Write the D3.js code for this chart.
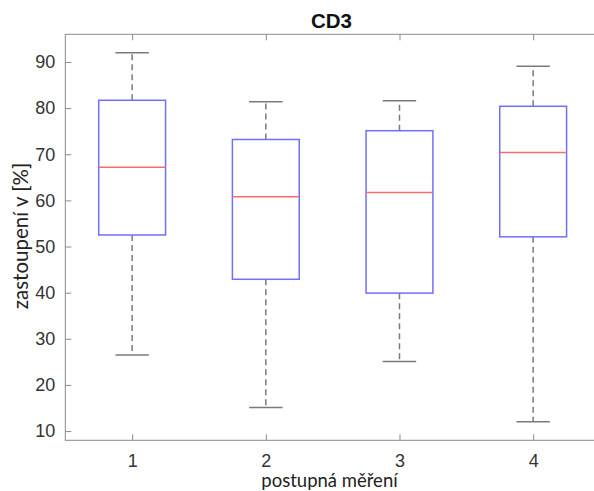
<!DOCTYPE html>
<html>
<head>
<meta charset="utf-8">
<script src="https://cdn.jsdelivr.net/npm/d3@7"></script>
<style>
  html, body { margin: 0; padding: 0; background: #fff; }
  svg { display: block; }
</style>
</head>
<body>
<svg id="chart" width="594" height="491"></svg>
<script>
// Measurement groups and their box-plot statistics (%)
const groups = [1, 2, 3, 4];
const whiskerLow  = [26.5, 15.1, 25.1, 12.0];
const q1          = [52.5, 42.9, 39.9, 52.1];
const median      = [67.2, 60.8, 61.7, 70.4];
const q3          = [81.7, 73.2, 75.1, 80.4];
const whiskerHigh = [92.0, 81.4, 81.6, 89.1];
const yTicks = [10, 20, 30, 40, 50, 60, 70, 80, 90];

const title = "CD3";
const xLabel = "postupná měření";
const yLabel = "zastoupení v [%]";

const svg = d3.select("#chart");
const plotLeft = 65.3, plotRight = 600, plotTop = 34.3, plotBottom = 440.3;

const x = d3.scaleLinear().domain([0.5, 4.5]).range([plotLeft, plotRight]);
const y = d3.scaleLinear().domain([8, 96]).range([plotBottom, plotTop]);

const frameColor = "#8a8a8a";
const textColor = "#333";
const tickFont = "'Liberation Sans', Arial, sans-serif";
const labelFont = "Lato, 'Open Sans', sans-serif";

// Axes frame
svg.append("rect")
  .attr("x", plotLeft).attr("y", plotTop)
  .attr("width", plotRight - plotLeft).attr("height", plotBottom - plotTop)
  .attr("fill", "none").attr("stroke", frameColor).attr("stroke-width", 1);

// Left axis (ticks pointing inward)
const yAxis = svg.append("g")
  .attr("transform", `translate(${plotLeft},0)`)
  .call(d3.axisLeft(y).tickValues(yTicks).tickSizeInner(-6).tickSizeOuter(0).tickPadding(10));
yAxis.select(".domain").remove();
yAxis.selectAll(".tick line").attr("stroke", frameColor);
yAxis.selectAll(".tick text")
  .attr("fill", textColor).attr("font-family", tickFont).attr("font-size", 18);

// Right side inward ticks
const yAxisR = svg.append("g")
  .attr("transform", `translate(${plotRight},0)`)
  .call(d3.axisRight(y).tickValues(yTicks).tickSizeInner(-6).tickSizeOuter(0).tickFormat(""));
yAxisR.select(".domain").remove();
yAxisR.selectAll(".tick line").attr("stroke", frameColor);

// Bottom axis
const xAxis = svg.append("g")
  .attr("transform", `translate(0,${plotBottom})`)
  .call(d3.axisBottom(x).tickValues(groups).tickSizeInner(-6).tickSizeOuter(0).tickPadding(13.5).tickFormat(d3.format("d")));
xAxis.select(".domain").remove();
xAxis.selectAll(".tick line").attr("stroke", frameColor);
xAxis.selectAll(".tick text")
  .attr("fill", textColor).attr("font-family", tickFont).attr("font-size", 18);

// Top inward ticks
const xAxisT = svg.append("g")
  .attr("transform", `translate(0,${plotTop})`)
  .call(d3.axisTop(x).tickValues(groups).tickSizeInner(-6).tickSizeOuter(0).tickFormat(""));
xAxisT.select(".domain").remove();
xAxisT.selectAll(".tick line").attr("stroke", frameColor);

// Box plots
const boxHalf = 0.25, capHalf = 0.125;
const stats = groups.map((g, i) => ({
  g, lo: whiskerLow[i], q1: q1[i], med: median[i], q3: q3[i], hi: whiskerHigh[i]
}));

const boxes = svg.append("g").selectAll("g").data(stats).join("g");

const whiskerColor = "#7a7a7a";
// Dashed whiskers
boxes.append("line")
  .attr("x1", d => x(d.g)).attr("x2", d => x(d.g))
  .attr("y1", d => y(d.q3)).attr("y2", d => y(d.hi))
  .attr("stroke", whiskerColor).attr("stroke-width", 1.5).attr("stroke-dasharray", "6,4");
boxes.append("line")
  .attr("x1", d => x(d.g)).attr("x2", d => x(d.g))
  .attr("y1", d => y(d.q1)).attr("y2", d => y(d.lo))
  .attr("stroke", whiskerColor).attr("stroke-width", 1.5).attr("stroke-dasharray", "6,4");
// Whisker caps
boxes.append("line")
  .attr("x1", d => x(d.g - capHalf)).attr("x2", d => x(d.g + capHalf))
  .attr("y1", d => y(d.hi)).attr("y2", d => y(d.hi))
  .attr("stroke", whiskerColor).attr("stroke-width", 1.5);
boxes.append("line")
  .attr("x1", d => x(d.g - capHalf)).attr("x2", d => x(d.g + capHalf))
  .attr("y1", d => y(d.lo)).attr("y2", d => y(d.lo))
  .attr("stroke", whiskerColor).attr("stroke-width", 1.5);
// Interquartile box
boxes.append("rect")
  .attr("x", d => x(d.g - boxHalf))
  .attr("y", d => y(d.q3))
  .attr("width", d => x(d.g + boxHalf) - x(d.g - boxHalf))
  .attr("height", d => y(d.q1) - y(d.q3))
  .attr("fill", "none").attr("stroke", "#6f6fff").attr("stroke-width", 1.5);
// Median
boxes.append("line")
  .attr("x1", d => x(d.g - boxHalf)).attr("x2", d => x(d.g + boxHalf))
  .attr("y1", d => y(d.med)).attr("y2", d => y(d.med))
  .attr("stroke", "#ff6b6b").attr("stroke-width", 1.5);

// Title and axis labels
svg.append("text")
  .attr("x", 331.5).attr("y", 27.5)
  .attr("text-anchor", "middle")
  .attr("font-family", tickFont).attr("font-weight", "bold").attr("font-size", 20.5)
  .attr("fill", "#111").text(title);

svg.append("text")
  .attr("x", 329.5).attr("y", 487)
  .attr("text-anchor", "middle")
  .attr("font-family", labelFont).attr("font-size", 18.5)
  .attr("fill", "#222").text(xLabel);

svg.append("text")
  .attr("transform", "translate(28,236) rotate(-90)")
  .attr("text-anchor", "middle")
  .attr("font-family", labelFont).attr("font-size", 20.5)
  .attr("fill", "#222").text(yLabel);
</script>
</body>
</html>
